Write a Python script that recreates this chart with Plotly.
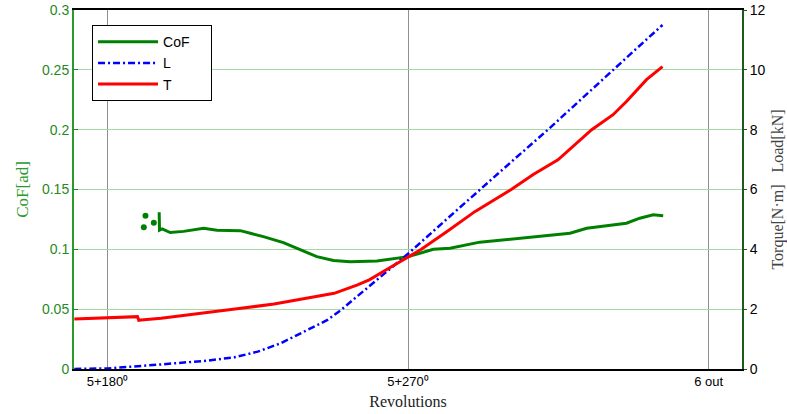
import plotly.graph_objects as go

# x in degrees of revolution: 180 -> "5+180", 270 -> "5+270", 360 -> "6 out"
cof_x = [195.5, 195.6, 196.4, 198.8, 202.8, 208.8, 212.8, 219.8, 222.8, 226.7, 232.7,
         237.7, 242.7, 247.7, 252.7, 260.7, 266.6, 270.1, 277.6, 282.6, 291.5, 300.5,
         309.5, 318.5, 323.5, 330.4, 335.4, 339.4, 343.4, 346.4]
cof_y = [0.131, 0.116, 0.117, 0.114, 0.115, 0.1176, 0.116, 0.1156, 0.1134, 0.1106, 0.1056,
         0.0995, 0.0939, 0.0906, 0.0897, 0.0903, 0.0925, 0.0939, 0.100, 0.101, 0.106, 0.1084,
         0.1106, 0.1134, 0.1176, 0.1204, 0.1218, 0.126, 0.1288, 0.128]
cof_dots_x = [191.4, 190.9, 193.9]
cof_dots_y = [0.128, 0.1185, 0.1223]

load_x = [170.1, 180.1, 190.1, 200.0, 210.0, 218.0, 225.0, 231.9, 239.9, 245.9, 249.9,
          255.9, 260.8, 265.5, 270.1, 281.5, 291.5, 301.7, 311.9, 321.6, 331.4, 338.8, 346.2]
load_y = [0.0, 0.02, 0.1, 0.19, 0.28, 0.39, 0.58, 0.86, 1.30, 1.64, 1.97,
          2.53, 2.98, 3.42, 3.86, 5.0, 6.0, 7.0, 8.0, 9.0, 10.0, 10.75, 11.5]

torque_x = [170.1, 180.1, 189.0, 189.4, 190.1, 196.1, 210.0, 220.0, 229.9, 239.9, 247.9,
            254.9, 258.4, 264.0, 270.1, 274.0, 282.0, 290.0, 300.9, 307.5, 314.9, 320.0,
            325.0, 331.4, 335.4, 341.4, 346.2]
torque_y = [1.67, 1.72, 1.75, 1.63, 1.64, 1.70, 1.88, 2.03, 2.17, 2.36, 2.53,
            2.81, 2.98, 3.35, 3.76, 4.0, 4.62, 5.26, 6.0, 6.5, 6.99, 7.5,
            8.0, 8.5, 8.94, 9.67, 10.11]

x_tickvals = [180, 270, 360]
x_ticktext = ["5+180\u2070", "5+270\u2070", "6 out"]
legend_names = ["CoF", "L", "T"]

GREEN = "#1f8a1f"
SANS = "Liberation Sans, Arial, sans-serif"
SERIF = "Liberation Serif, Times New Roman, serif"
PAD = "\u00a0" * 4

fig = go.Figure()
fig.add_trace(go.Scatter(x=cof_x, y=cof_y, mode="lines", name=legend_names[0] + PAD,
                         line=dict(color="#008000", width=3)))
fig.add_trace(go.Scatter(x=load_x, y=load_y, mode="lines", name=legend_names[1] + PAD, yaxis="y2",
                         line=dict(color="#0000ff", width=2.5, dash="7px,3px,2px,3px")))
fig.add_trace(go.Scatter(x=torque_x, y=torque_y, mode="lines", name=legend_names[2] + PAD, yaxis="y2",
                         line=dict(color="#ff0000", width=3)))
fig.add_trace(go.Scatter(x=cof_dots_x, y=cof_dots_y, mode="markers", showlegend=False,
                         marker=dict(color="#008000", size=6)))

fig.update_layout(
    width=787, height=414,
    margin=dict(l=74, r=45, t=10, b=45, autoexpand=False),
    paper_bgcolor="white", plot_bgcolor="white",
    showlegend=True,
    legend=dict(x=0.027, y=0.958, xanchor="left", yanchor="top",
                bordercolor="black", borderwidth=1, bgcolor="white",
                font=dict(family=SANS, size=14, color="black"),
                itemwidth=60, tracegroupgap=0),
    xaxis=dict(range=[170, 370], tickvals=x_tickvals, ticktext=x_ticktext,
               showgrid=True, gridcolor="#909090", gridwidth=1,
               showline=True, linecolor="black", linewidth=1.5, mirror=True,
               ticks="", zeroline=False, automargin=False,
               tickfont=dict(family=SANS, size=13, color="black"),
               title=dict(text="Revolutions", font=dict(family=SERIF, size=16, color="#222"),
                          standoff=7)),
    yaxis=dict(range=[0, 0.3], dtick=0.05, tickformat="~g",
               showgrid=True, gridcolor="#a6d8a6", gridwidth=1,
               showline=True, linecolor="#2a9a2a", linewidth=2,
               ticks="inside", ticklen=4, tickcolor=GREEN, zeroline=False, automargin=False,
               tickfont=dict(family=SANS, size=14, color=GREEN),
               title=dict(text="CoF[ad]", font=dict(family=SERIF, size=17, color="#2a9a2a"),
                          standoff=9)),
    yaxis2=dict(range=[0, 12], dtick=2, overlaying="y", side="right",
                showgrid=False, showline=True, linecolor="#1e5a1e", linewidth=2,
                ticks="outside", ticklen=3, tickcolor="#1e5a1e", zeroline=False, automargin=False,
                tickfont=dict(family=SANS, size=14, color="black"),
                title=dict(text="Torque[N\u00b7m]   Load[kN]",
                           font=dict(family=SERIF, size=16, color="#444"), standoff=7)),
)

fig.write_html("out.html")
